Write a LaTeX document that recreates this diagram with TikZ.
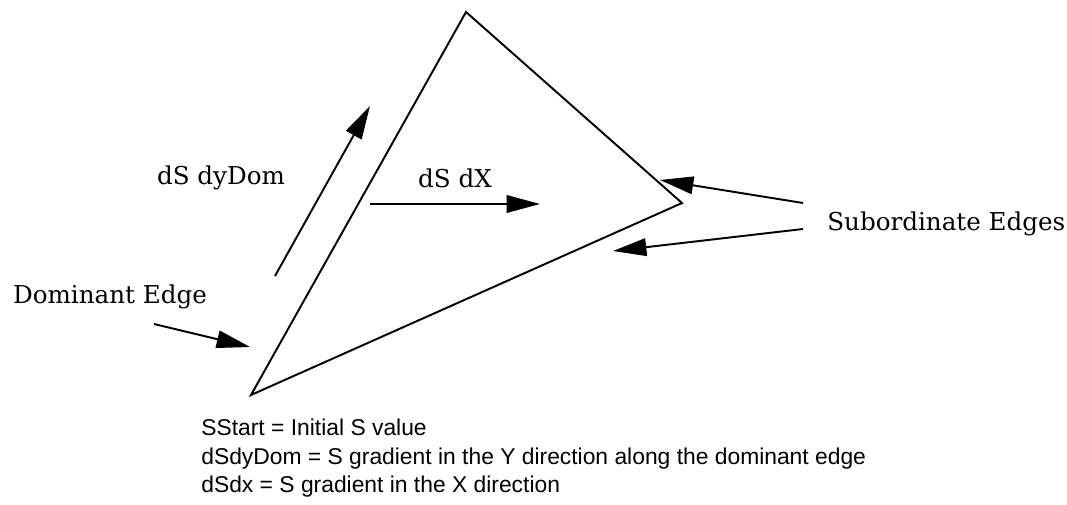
\documentclass[tikz,border=0pt]{standalone}
\usepackage{fontspec}
\setmainfont{DejaVu Serif}
\newfontfamily\legendfont{Liberation Sans}
\usetikzlibrary{arrows.meta}

\begin{document}
\begin{tikzpicture}[
    x=0.02cm, y=-0.02cm,
    edge/.style = {draw, line width=1.1pt, line join=miter},
    arrow/.style = {draw, line width=1.1pt, -{Triangle[length=19pt,width=10pt]}},
    tagtext/.style = {font=\fontsize{14}{17}\selectfont, inner sep=0pt},
    legend/.style = {font=\legendfont\fontsize{13}{16.2}\selectfont, align=left, anchor=north west, inner sep=0pt}
]
\useasboundingbox (0,0) rectangle (1067,504);

% triangle
\coordinate (top) at (466,12);
\coordinate (right) at (682,203);
\coordinate (bottom) at (251,395);
\draw [edge] (top) -- (right) -- (bottom) -- cycle;

% labels
\node (dom) [tagtext] at (110,297) {Dominant Edge};
\node (dsdydom) [tagtext] at (221,178) {dS dyDom};
\node (dsdx) [tagtext] at (455,178) {dS dX};
\node (sub) [tagtext, anchor=west] at (827,224) {Subordinate Edges};

% arrow ends
\coordinate (domtail) at (154,324);
\coordinate (domtip) at (250,347);
\coordinate (dytail) at (275,276);
\coordinate (dytip) at (370,106);
\coordinate (dxtail) at (370,204);
\coordinate (dxtip) at (540,204);
\coordinate (subtail1) at (803,203);
\coordinate (subtip1) at (660,180);
\coordinate (subtail2) at (803,229);
\coordinate (subtip2) at (613,251);

\draw [arrow] (domtail) -- (domtip);
\draw [arrow] (dytail) -- (dytip);
\draw [arrow] (dxtail) -- (dxtip);
\draw [arrow] (subtail1) -- (subtip1);
\draw [arrow] (subtail2) -- (subtip2);

% legend
\node (key) [legend] at (201,419) {SStart = Initial S value\\
dSdyDom = S gradient in the Y direction along the dominant edge\\
dSdx = S gradient in the X direction};
\end{tikzpicture}
\end{document}
